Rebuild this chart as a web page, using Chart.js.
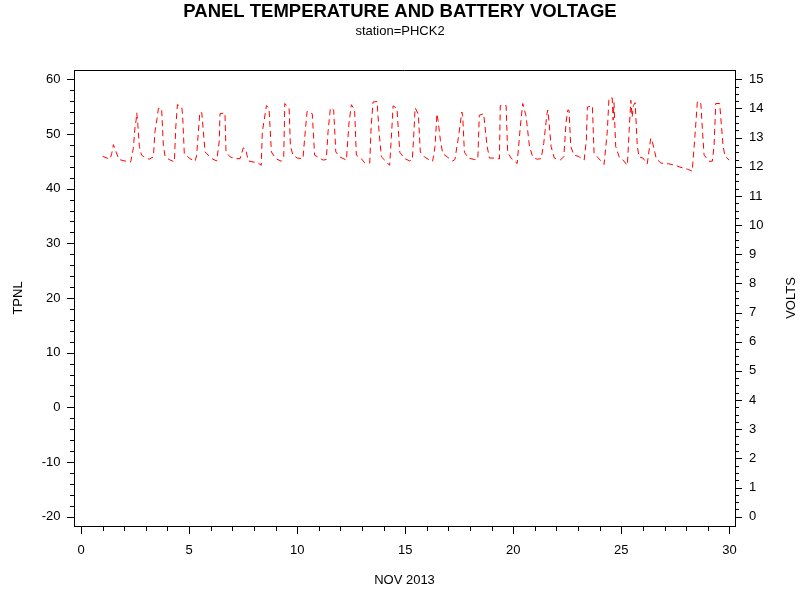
<!DOCTYPE html>
<html>
<head>
<meta charset="utf-8">
<title>Panel temperature and battery voltage</title>
<script src="https://cdn.jsdelivr.net/npm/chart.js@4/dist/chart.umd.min.js"></script>
<style>
  body { margin: 0; background: #fff; }
  #wrap { width: 800px; height: 600px; }
</style>
</head>
<body>
<div id="wrap"><canvas id="myChart" width="800" height="600"></canvas></div>
<script>
// day of November 2013 (fractional) and battery voltage
const days = [
  1.0, 1.2, 1.34, 1.42, 1.5, 1.6, 1.76, 2.08, 2.3, 2.42, 2.5, 2.55, 2.58, 2.63, 2.7, 2.8,
  2.88, 3.15, 3.35, 3.42, 3.52, 3.58, 3.73, 3.81, 3.89, 4.07, 4.32, 4.38, 4.46, 4.55, 4.66, 4.7,
  4.78, 5.04, 5.28, 5.35, 5.5, 5.59, 5.74, 6.05, 6.28, 6.4, 6.43, 6.66, 6.71, 6.9, 7.13, 7.36,
  7.51, 7.62, 7.74, 7.82, 8.05, 8.2, 8.34, 8.39, 8.58, 8.7, 8.81, 9.01, 9.27, 9.38, 9.43, 9.63,
  9.69, 9.81, 10.01, 10.27, 10.35, 10.46, 10.7, 10.81, 11.2, 11.35, 11.43, 11.54, 11.69, 11.79, 11.97, 12.28,
  12.4, 12.51, 12.66, 12.74, 12.97, 13.13, 13.36, 13.42, 13.51, 13.7, 13.79, 13.9, 14.05, 14.28, 14.36, 14.44,
  14.62, 14.75, 14.98, 15.21, 15.33, 15.39, 15.46, 15.61, 15.7, 15.89, 16.12, 16.27, 16.38, 16.47, 16.52, 16.63,
  16.74, 16.94, 17.2, 17.3, 17.46, 17.62, 17.66, 17.74, 17.92, 18.2, 18.36, 18.43, 18.63, 18.79, 18.9, 19.1,
  19.36, 19.4, 19.67, 19.74, 19.9, 20.18, 20.33, 20.44, 20.59, 20.75, 20.9, 21.1, 21.29, 21.41, 21.56, 21.6,
  21.66, 21.75, 21.9, 22.18, 22.34, 22.44, 22.52, 22.58, 22.66, 22.81, 23.01, 23.28, 23.38, 23.43, 23.66, 23.74,
  23.89, 24.2, 24.35, 24.43, 24.58, 24.62, 24.66, 24.74, 24.9, 25.08, 25.28, 25.36, 25.44, 25.5, 25.56, 25.64,
  25.74, 25.82, 26.0, 26.2, 26.36, 26.4, 26.55, 26.62, 26.83, 27.2, 27.52, 27.67, 28.05, 28.28, 28.36, 28.43,
  28.52, 28.68, 28.75, 28.83, 29.06, 29.21, 29.29, 29.37, 29.55, 29.71, 29.8, 29.99
];
const volts = [
  12.36, 12.3, 12.26, 12.45, 12.76, 12.55, 12.25, 12.19, 12.17, 12.63, 13.37, 13.6, 13.85, 13.45, 12.7, 12.4,
  12.36, 12.26, 12.34, 13.2, 13.66, 14.0, 14.0, 12.74, 12.36, 12.25, 12.17, 13.3, 14.13, 14.1, 14.05, 13.8,
  12.45, 12.28, 12.19, 12.4, 13.88, 13.85, 12.51, 12.28, 12.2, 12.9, 13.82, 13.85, 12.5, 12.34, 12.28, 12.28,
  12.65, 12.6, 12.2, 12.19, 12.15, 12.13, 12.05, 13.2, 14.1, 14.0, 12.51, 12.28, 12.19, 12.35, 14.17, 14.0,
  12.7, 12.4, 12.3, 12.28, 13.0, 13.9, 13.82, 12.4, 12.23, 12.25, 13.2, 14.02, 13.95, 12.51, 12.34, 12.23,
  13.5, 14.13, 13.95, 12.4, 12.28, 12.13, 12.13, 13.3, 14.22, 14.24, 13.2, 12.34, 12.23, 12.05, 13.0, 14.09,
  14.0, 12.5, 12.28, 12.2, 12.25, 13.0, 14.02, 13.8, 12.51, 12.34, 12.23, 12.19, 12.7, 13.82, 13.6, 12.9,
  12.45, 12.34, 12.2, 12.25, 13.0, 13.88, 13.75, 12.5, 12.3, 12.25, 12.27, 13.77, 13.82, 12.7, 12.3, 12.3,
  12.27, 14.1, 14.1, 12.5, 12.3, 12.11, 13.4, 14.17, 13.75, 12.7, 12.34, 12.26, 12.28, 12.8, 13.82, 13.95,
  13.5, 12.7, 12.3, 12.23, 12.35, 13.5, 13.94, 13.94, 12.7, 12.4, 12.36, 12.23, 12.9, 14.05, 14.09, 12.45,
  12.34, 12.08, 13.2, 14.36, 14.36, 13.6, 14.2, 12.7, 12.34, 12.23, 12.05, 13.2, 14.28, 13.7, 14.1, 14.2,
  12.7, 12.34, 12.3, 12.1, 12.97, 12.97, 12.5, 12.27, 12.13, 12.1, 12.05, 12.0, 11.92, 11.85, 12.6, 13.3,
  14.25, 14.17, 13.3, 12.4, 12.19, 12.19, 12.7, 14.17, 14.17, 12.7, 12.36, 12.23
];

// axis tick labels
const xTicks = [0, 5, 10, 15, 20, 25, 30];
const tpnlTicks = [-20, -10, 0, 10, 20, 30, 40, 50, 60];
const voltTicks = [0, 1, 2, 3, 4, 5, 6, 7, 8, 9, 10, 11, 12, 13, 14, 15];

const FONT = "'Liberation Sans', Arial, Helvetica, sans-serif";

// draws the top frame line plus major / minor tick marks outside the axes
const tickMarks = {
  id: "tickMarks",
  afterDraw(chart) {
    const { ctx, chartArea: a, scales } = chart;
    const x = scales.x, y = scales.y, y1 = scales.y1;
    ctx.save();
    ctx.strokeStyle = "#000";
    ctx.lineWidth = 1;
    ctx.beginPath();
    ctx.moveTo(a.left, Math.round(a.top) + 0.5);
    ctx.lineTo(a.right, Math.round(a.top) + 0.5);
    for (let v = -20; v <= 60; v += 2) {
      const py = Math.round(y.getPixelForValue(v)) + 0.5;
      const len = tpnlTicks.includes(v) ? 7 : 4;
      ctx.moveTo(a.left - len, py);
      ctx.lineTo(a.left, py);
    }
    for (let v = 0; v <= 15.001; v += 0.25) {
      const py = Math.round(y1.getPixelForValue(v)) + 0.5;
      const len = Number.isInteger(Math.round(v * 100) / 100) ? 7 : 4;
      ctx.moveTo(a.right, py);
      ctx.lineTo(a.right + len, py);
    }
    for (let v = 0; v <= 30; v += 1) {
      const px = Math.round(x.getPixelForValue(v)) + 0.5;
      const len = xTicks.includes(v) ? 8 : 5;
      ctx.moveTo(px, a.bottom);
      ctx.lineTo(px, a.bottom + len);
    }
    ctx.stroke();

    // right axis title, reading bottom to top like the left one
    ctx.fillStyle = "#000";
    ctx.font = "13px " + FONT;
    ctx.textAlign = "center";
    ctx.textBaseline = "middle";
    ctx.translate(791, (a.top + a.bottom) / 2);
    ctx.rotate(-Math.PI / 2);
    ctx.fillText("VOLTS", 0, 0);
    ctx.restore();
  },
};

const ctx = document.getElementById("myChart").getContext("2d");

new Chart(ctx, {
  type: "line",
  data: {
    datasets: [
      {
        label: "VOLTS",
        data: days.map((d, i) => ({ x: d, y: volts[i] })),
        yAxisID: "y1",
        borderColor: "#ff0000",
        backgroundColor: "#ff0000",
        borderWidth: 1,
        borderDash: [6, 4],
        pointRadius: 0,
        tension: 0,
        fill: false,
      },
    ],
  },
  options: {
    responsive: false,
    animation: false,
    layout: { padding: 0 },
    plugins: {
      legend: { display: false },
      tooltip: { enabled: false },
      title: {
        display: true,
        text: "PANEL TEMPERATURE AND BATTERY VOLTAGE",
        color: "#000",
        font: { family: FONT, size: 18.5, weight: "bold", lineHeight: 1 },
        padding: { top: 3, bottom: 0 },
      },
      subtitle: {
        display: true,
        text: "station=PHCK2",
        color: "#000",
        font: { family: FONT, size: 13, lineHeight: 1.2 },
        padding: { top: 2, bottom: 30.9 },
      },
    },
    scales: {
      x: {
        type: "linear",
        position: "bottom",
        min: -0.324,
        max: 30.26,
        afterBuildTicks: (s) => { s.ticks = xTicks.map((v) => ({ value: v })); },
        afterFit: (s) => { s.height = 74; },
        grid: { display: false, drawTicks: false },
        border: { display: true, color: "#000", width: 1 },
        ticks: { color: "#000", padding: 17, maxRotation: 0, font: { family: FONT, size: 13 } },
        title: {
          display: true,
          text: "NOV 2013",
          color: "#000",
          font: { family: FONT, size: 13 },
          padding: { top: 0, bottom: 12.2 },
        },
      },
      y: {
        position: "left",
        min: -21.7,
        max: 61.7,
        afterBuildTicks: (s) => { s.ticks = tpnlTicks.map((v) => ({ value: v })); },
        afterFit: (s) => { s.width = 74; },
        grid: { display: false, drawTicks: false },
        border: { display: true, color: "#000", width: 1 },
        ticks: { color: "#000", padding: 13.5, font: { family: FONT, size: 13 } },
        title: {
          display: true,
          text: "TPNL",
          color: "#000",
          font: { family: FONT, size: 13 },
          padding: { top: 10.2, bottom: 0 },
        },
      },
      y1: {
        position: "right",
        min: -0.32,
        max: 15.32,
        afterBuildTicks: (s) => { s.ticks = voltTicks.map((v) => ({ value: v })); },
        afterFit: (s) => { s.width = 65; },
        grid: { display: false, drawTicks: false },
        border: { display: true, color: "#000", width: 1 },
        ticks: { color: "#000", padding: 14, font: { family: FONT, size: 13 } },
      },
    },
  },
  plugins: [tickMarks],
});
</script>
</body>
</html>
